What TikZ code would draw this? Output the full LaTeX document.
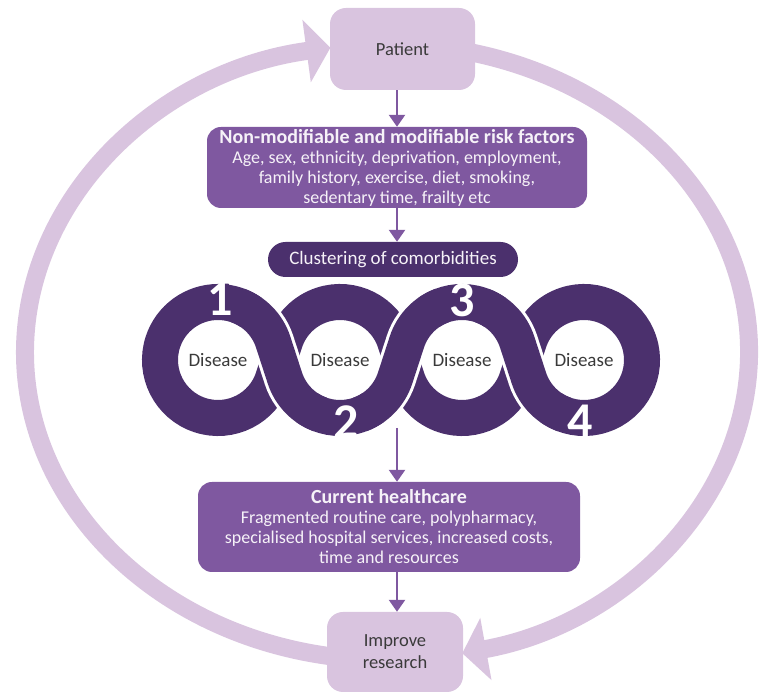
\documentclass[tikz,border=0pt]{standalone}
\usepackage{fontspec}
\setmainfont{Carlito}
\usetikzlibrary{arrows.meta,calc}

\definecolor{lilac}{HTML}{D9C4DF}
\definecolor{plum}{HTML}{7F58A0}
\definecolor{aubergine}{HTML}{4B306D}
\definecolor{ink}{HTML}{3A3A3A}
\definecolor{paper}{HTML}{F6F2F8}

\newcommand{\boxtitle}[1]{{\fontsize{20}{20}\selectfont\bfseries #1}}

\begin{document}
\begin{tikzpicture}[x=1pt,y=1pt,
  lightbox/.style={fill=lilac, rounded corners=16pt, inner sep=0pt, text=ink,
    font=\fontsize{18.5}{22}\selectfont, align=center},
  midbox/.style={fill=plum, rounded corners=14pt, inner sep=0pt, text=paper,
    font=\fontsize{18}{20}\selectfont, align=center},
  darkbox/.style={fill=aubergine, rounded corners=17.5pt, inner sep=0pt, text=paper,
    font=\fontsize{19}{22}\selectfont},
  cyclearc/.style={draw=lilac, line width=18pt, -{Triangle[length=24pt,width=62pt]}},
  link/.style={draw=plum, line width=2.5pt, -{Triangle[length=12pt,width=16pt]}},
  ribbon/.style={draw=aubergine, line width=36pt},
  casing/.style={draw=white, line width=42pt},
  disease/.style={text=ink, font=\fontsize{19}{22}\selectfont},
  digit/.style={text=white, font=\fontsize{50}{50}\selectfont\bfseries}]

\path[use as bounding box] (0,0) rectangle (765,695);

% outer feedback cycle
\coordinate (hub) at (387,343);
\draw[cyclearc] (hub) ++(265:362 and 308)
  arc[start angle=265, end angle=99, x radius=362, y radius=308];
\draw[cyclearc] (hub) ++(80:362 and 308)
  arc[start angle=80, end angle=-78, x radius=362, y radius=308];

% chain of four interlaced loops: one closed ribbon
\coordinate (c1) at (218,335);
\coordinate (c2) at (340,335);
\coordinate (c3) at (462,335);
\coordinate (c4) at (584,335);
\draw[ribbon]
  (218,393) arc[start angle=90, end angle=18, radius=58]
  -- (284.84,317.08) arc[start angle=198, end angle=342, radius=58]
  -- (406.84,352.92) arc[start angle=162, end angle=18, radius=58]
  -- (528.84,317.08) arc[start angle=198, end angle=522, radius=58]
  -- (517.16,317.08) arc[start angle=342, end angle=198, radius=58]
  -- (395.16,352.92) arc[start angle=18, end angle=162, radius=58]
  -- (273.16,317.08) arc[start angle=-18, end angle=-270, radius=58]
  -- cycle;

% over-crossings: white edge first, then the strand laid again on top
% (the strand runs a little further than its edge, hiding the seams)
\draw[casing] (c1) ++(55:58) arc[start angle=55, end angle=18, radius=58]
  -- (284.84,317.08) arc[start angle=198, end angle=235, radius=58];
\draw[casing] (c2) ++(305:58) arc[start angle=305, end angle=342, radius=58]
  -- (406.84,352.92) arc[start angle=162, end angle=125, radius=58];
\draw[casing] (c3) ++(55:58) arc[start angle=55, end angle=18, radius=58]
  -- (528.84,317.08) arc[start angle=198, end angle=235, radius=58];
\draw[ribbon] (c1) ++(70:58) arc[start angle=70, end angle=18, radius=58]
  -- (284.84,317.08) arc[start angle=198, end angle=250, radius=58];
\draw[ribbon] (c2) ++(290:58) arc[start angle=290, end angle=342, radius=58]
  -- (406.84,352.92) arc[start angle=162, end angle=110, radius=58];
\draw[ribbon] (c3) ++(70:58) arc[start angle=70, end angle=18, radius=58]
  -- (528.84,317.08) arc[start angle=198, end angle=250, radius=58];

% loop labels
\node[disease] (d1) at (c1) {Disease};
\node[disease] (d2) at (c2) {Disease};
\node[disease] (d3) at (c3) {Disease};
\node[disease] (d4) at (c4) {Disease};
\node[digit] (k1) at (220,396) {1};
\node[digit] (k2) at (346,273) {2};
\node[digit] (k3) at (462,395) {3};
\node[digit] (k4) at (580,274) {4};

% boxes
\node[lightbox, minimum width=145pt, minimum height=82pt] (patient) at (402.5,646) {Patient};
\node[midbox, minimum width=380pt, minimum height=81pt] (risk) at (397,527.5)
  {\boxtitle{Non-modifiable and modifiable risk factors}\\
   Age, sex, ethnicity, deprivation, employment,\\
   family history, exercise, diet, smoking,\\
   sedentary time, frailty etc};
\node[darkbox, minimum width=250pt, minimum height=35pt] (cluster) at (393,435.5)
  {Clustering of comorbidities};
\node[midbox, minimum width=382pt, minimum height=90pt] (care) at (389,168)
  {\boxtitle{Current healthcare}\\
   Fragmented routine care, polypharmacy,\\
   specialised hospital services, increased costs,\\
   time and resources};
\node[lightbox, minimum width=136pt, minimum height=80pt] (improve) at (395,43)
  {Improve\\research};

% flow down the middle
\coordinate (spine) at (397,0);
\coordinate (chainout) at (397,267);
\draw[link] (patient.south -| spine) -- (risk.north -| spine);
\draw[link] (risk.south -| spine) -- (cluster.north -| spine);
\draw[link] (chainout) -- (care.north -| spine);
\draw[link] (care.south -| spine) -- (improve.north -| spine);

\end{tikzpicture}
\end{document}
